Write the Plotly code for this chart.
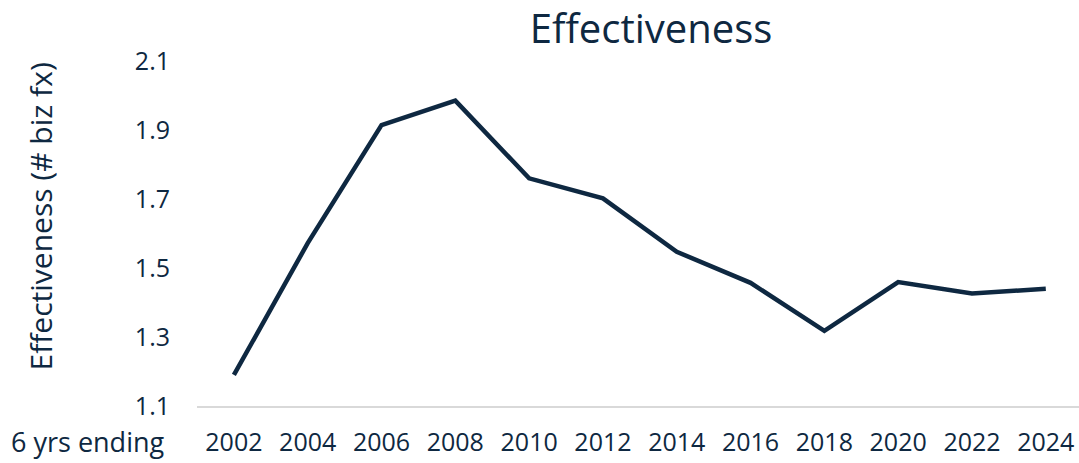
import plotly.graph_objects as go

years = ["2002", "2004", "2006", "2008", "2010", "2012", "2014", "2016", "2018", "2020", "2022", "2024"]
effectiveness = [1.19, 1.572, 1.914, 1.985, 1.76, 1.702, 1.547, 1.457, 1.318, 1.459, 1.426, 1.44]
y_ticks = [1.1, 1.3, 1.5, 1.7, 1.9, 2.1]

navy = "#0e2841"
font_family = "'Open Sans', Lato, sans-serif"

W, H = 1079, 463
L, R, T, B = 197, 0, 61, 57
pw = W - L - R
ph = H - T - B

fig = go.Figure()
fig.add_trace(go.Scatter(
    x=years, y=effectiveness, mode="lines",
    line=dict(color=navy, width=4.5, shape="linear"),
    hoverinfo="x+y",
))

fig.update_layout(
    width=W, height=H,
    margin=dict(l=L, r=R, t=T, b=B),
    paper_bgcolor="white", plot_bgcolor="white",
    showlegend=False,
    font=dict(family=font_family, color=navy, size=25),
    title=dict(text="Effectiveness", font=dict(size=40, color=navy, family=font_family),
               xref="container", x=651 / W, xanchor="center",
               yref="container", y=1 - 29 / H, yanchor="middle"),
    xaxis=dict(
        type="category", range=[-0.5, 11.45],
        showgrid=False, zeroline=False,
        showline=True, linecolor="#d9d9d9", linewidth=2,
        ticks="", ticklabelstandoff=13,
        tickfont=dict(size=25, color=navy),
    ),
    yaxis=dict(
        range=[1.1, 2.1], tickvals=y_ticks, tickformat=".1f",
        showgrid=False, zeroline=False, showline=False,
        ticks="", ticklabelstandoff=26,
        tickfont=dict(size=25, color=navy),
    ),
    annotations=[
        dict(text="Effectiveness (# biz fx)", xref="paper", yref="paper",
             x=(40 - L) / pw, y=(H - B - 216.5) / ph, xanchor="center", yanchor="middle",
             textangle=-90, showarrow=False, font=dict(size=30, color=navy)),
        dict(text="6 yrs ending", xref="paper", yref="paper",
             x=(167 - L) / pw, y=(H - B - 441) / ph, xanchor="right", yanchor="middle",
             showarrow=False, font=dict(size=27, color=navy)),
    ],
)

fig.write_html("out.html")
